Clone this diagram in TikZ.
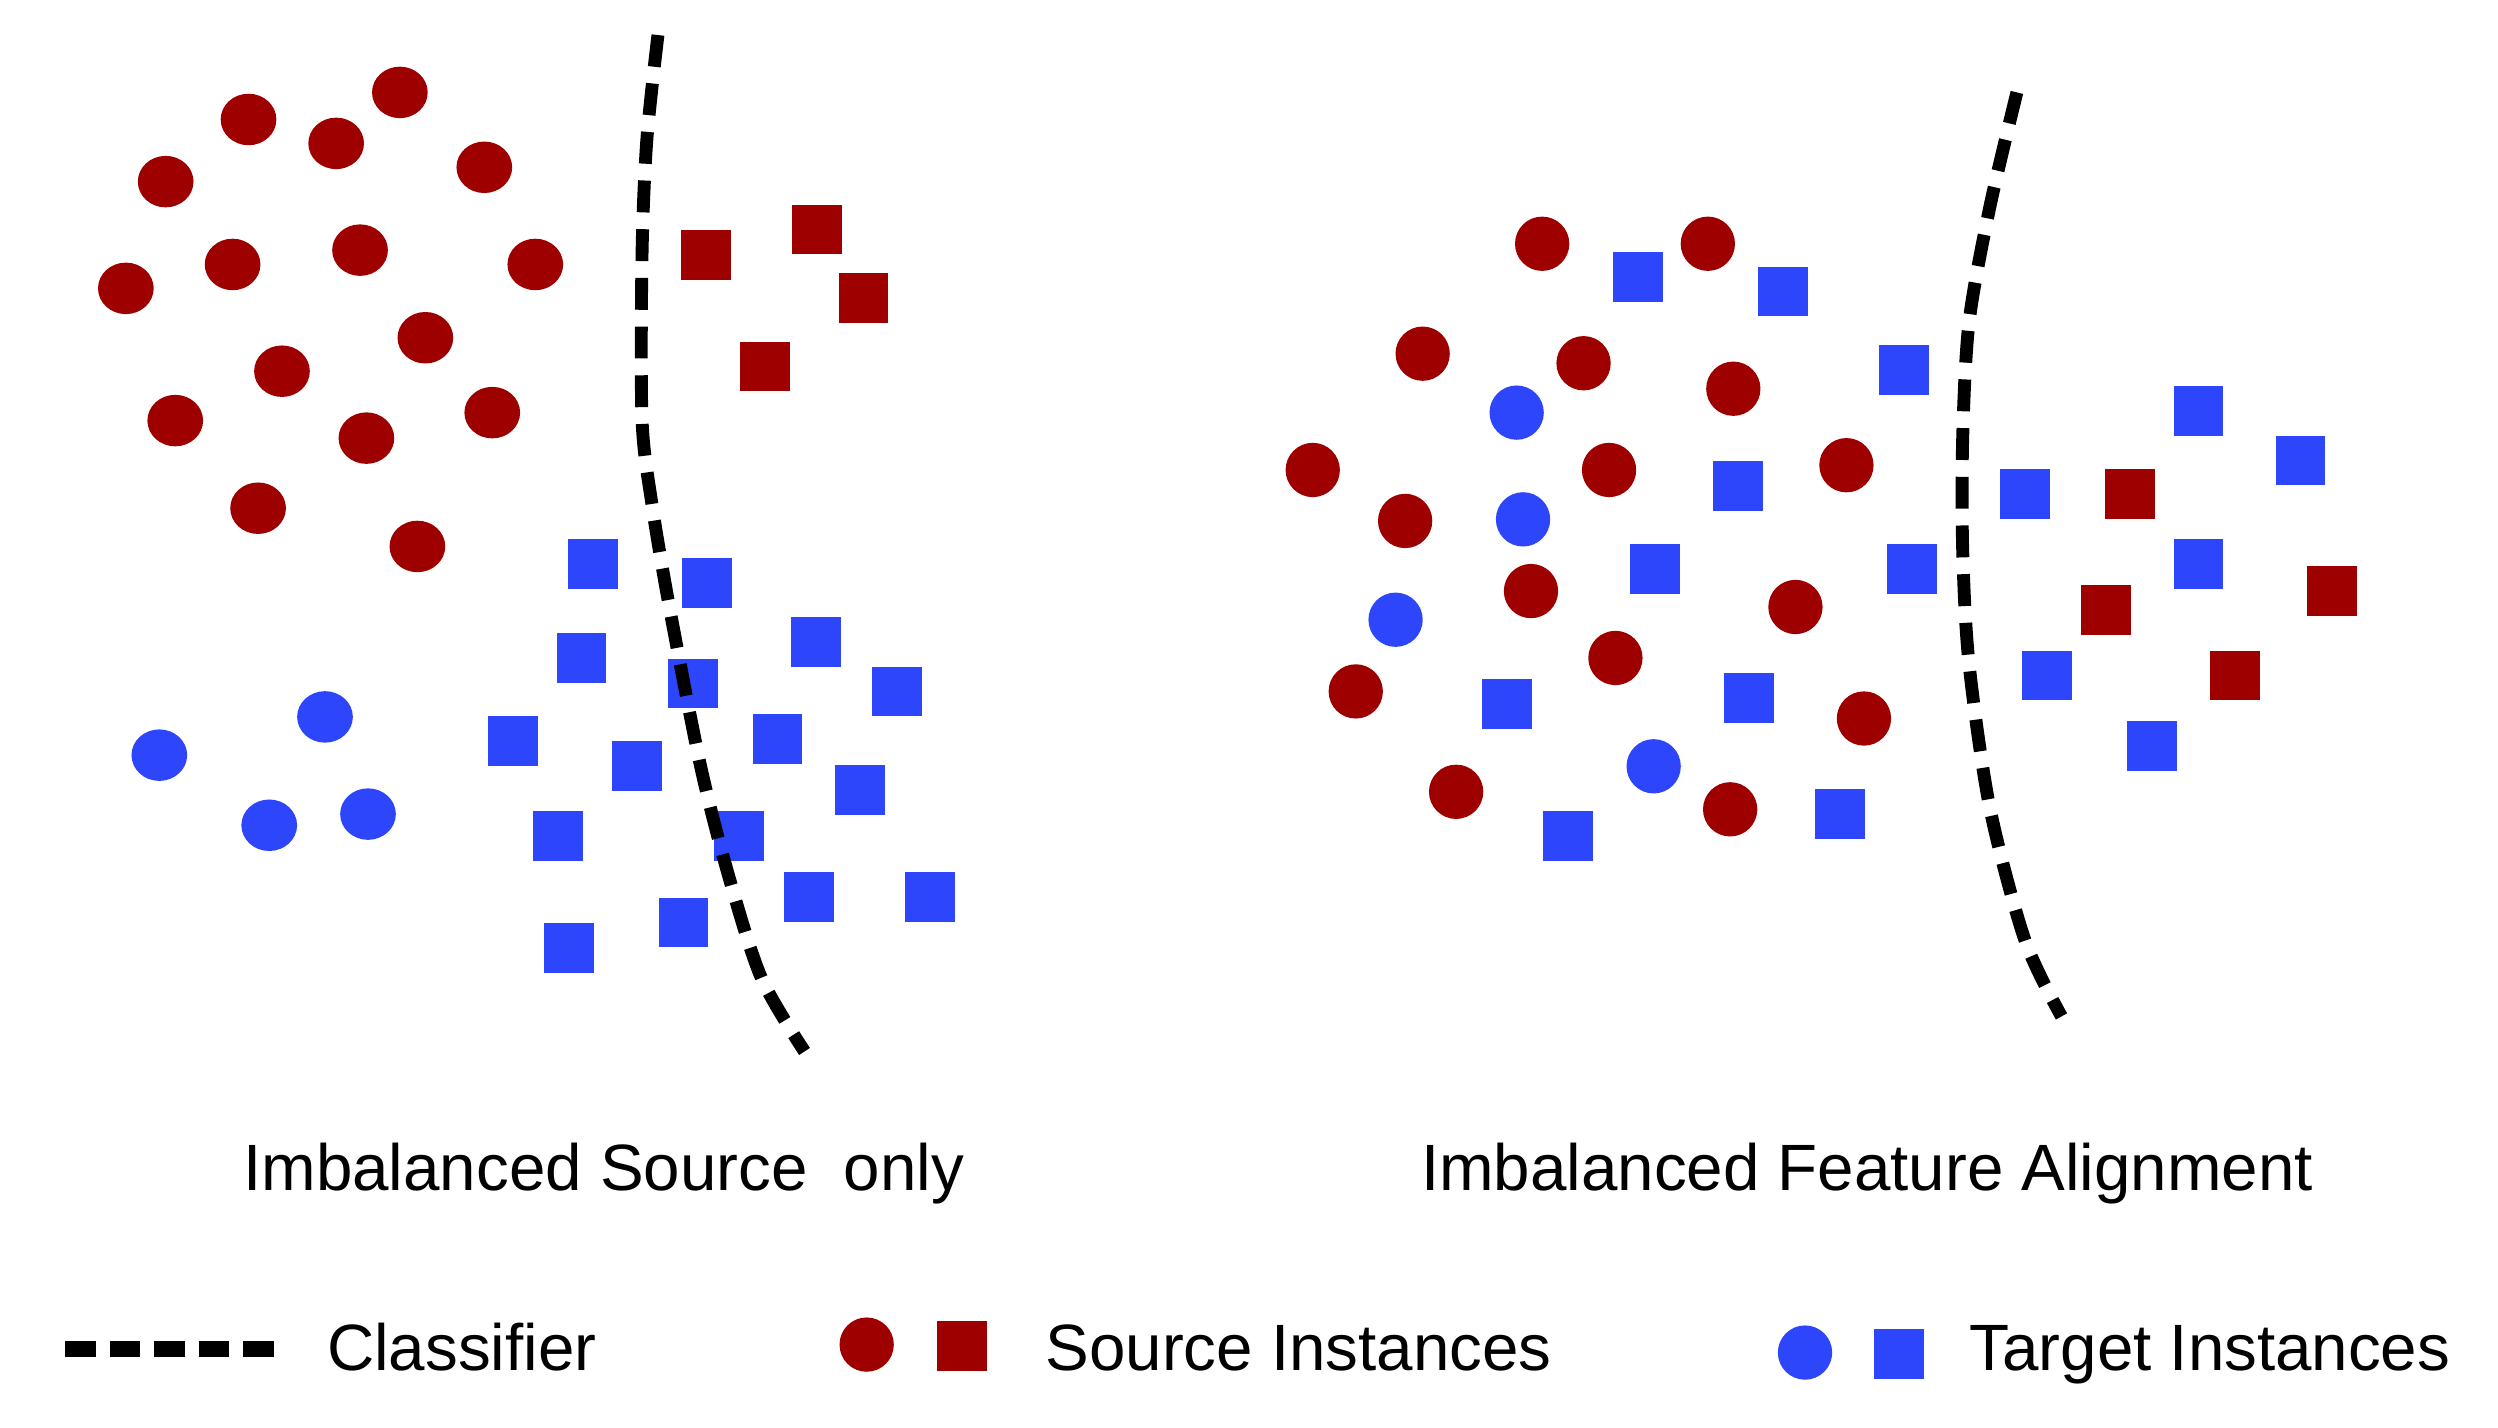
\documentclass[tikz,border=0pt]{standalone}
\usepackage{fontspec}
\setmainfont{Liberation Sans}
\usetikzlibrary{shapes.geometric}
\definecolor{srcRed}{HTML}{9E0000}
\definecolor{tgtBlue}{HTML}{2D46FB}

\begin{document}
\begin{tikzpicture}[x=0.02cm, y=-0.02cm,
    lsrc/.style={ellipse, fill=srcRed, inner sep=0pt, minimum width=19.9pt, minimum height=18.4pt},
    ltgt/.style={lsrc, fill=tgtBlue},
    srcdot/.style={circle, fill=srcRed, inner sep=0pt, minimum size=19.4pt},
    tgtdot/.style={srcdot, fill=tgtBlue},
    srcsq/.style={rectangle, fill=srcRed, inner sep=0pt, minimum size=17.8pt},
    tgtsq/.style={srcsq, fill=tgtBlue},
    boundary/.style={line width=4.6pt, dash pattern=on 11.4pt off 6pt},
    lbl/.style={font=\fontsize{23.4}{28}\selectfont, inner sep=0pt}]
  \useasboundingbox (0,0) rectangle (1568,896);

  % left panel
  \foreach \p [count=\i] in {(156,75),(211,90),(251,58),(104,114),(304,105),(146,166),(226,157),(336,166),
      (79,181),(267,212),(177,233),(110,264),(230,275),(309,259),(162,319),(262,343)}
    \node[lsrc] (ls\i) at \p {};
  \foreach \p [count=\i] in {(100,474),(204,450),(169,518),(231,511)}
    \node[ltgt] (lt\i) at \p {};
  \foreach \p [count=\i] in {(443,160),(513,144),(542,187),(480,230)}
    \node[srcsq] (lss\i) at \p {};
  \foreach \p [count=\i] in {(372,354),(444,366),(365,413),(512,403),(435,429),(563,434),(322,465),(400,481),
      (488,464),(540,496),(350,525),(464,525),(508,563),(584,563),(357,595),(429,579)}
    \node[tgtsq] (lts\i) at \p {};
  \draw[boundary] plot[smooth] coordinates {(413,22) (406,88) (403,160) (403,263) (409,315) (420,380)
      (440,482) (458,552) (478,614) (505,660)};
  \node[lbl, anchor=base] (lcap) at (379,747) {Imbalanced Source\ \ only};

  % right panel
  \foreach \p [count=\i] in {(968,153),(1072,153),(893,222),(994,228),(1088,244),(824,295),(1010,295),(1159,292),
      (882,327),(961,371),(1127,381),(1014,413),(851,434),(1170,451),(914,497),(1086,508)}
    \node[srcdot] (rs\i) at \p {};
  \foreach \p [count=\i] in {(952,259),(956,326),(876,389),(1038,481)}
    \node[tgtdot] (rt\i) at \p {};
  \foreach \p [count=\i] in {(1337,310),(1322,383),(1464,371),(1403,424)}
    \node[srcsq] (rss\i) at \p {};
  \foreach \p [count=\i] in {(1028,174),(1119,183),(1195,232),(1091,305),(1039,357),(1200,357),(946,442),(1098,438),
      (984,525),(1155,511),(1271,310),(1380,258),(1444,289),(1380,354),(1285,424),(1351,468)}
    \node[tgtsq] (rts\i) at \p {};
  \draw[boundary] plot[smooth] coordinates {(1266,58) (1249,130) (1236,202) (1232,274) (1232,346)
      (1236,417) (1249,507) (1271,590) (1294,638)};
  \node[lbl, anchor=base] (rcap) at (1172,747) {Imbalanced Feature Alignment};

  % legend
  \coordinate (kl) at (41,847);
  \coordinate (kr) at (172,847);
  \draw[line width=5.7pt, dash pattern=on 10.8pt off 5.1pt] (kl) -- (kr);
  \node[lbl, anchor=base west] (kcls) at (205,860) {Classifier};
  \node[srcdot] (ksd) at (544,844) {};
  \node[srcsq] (kss) at (604,845) {};
  \node[lbl, anchor=base west] (ksrc) at (656,860) {Source Instances};
  \node[tgtdot] (ktd) at (1133,849) {};
  \node[tgtsq] (kts) at (1192,850) {};
  \node[lbl, anchor=base west] (ktgt) at (1236,860) {Target Instances};
\end{tikzpicture}
\end{document}
